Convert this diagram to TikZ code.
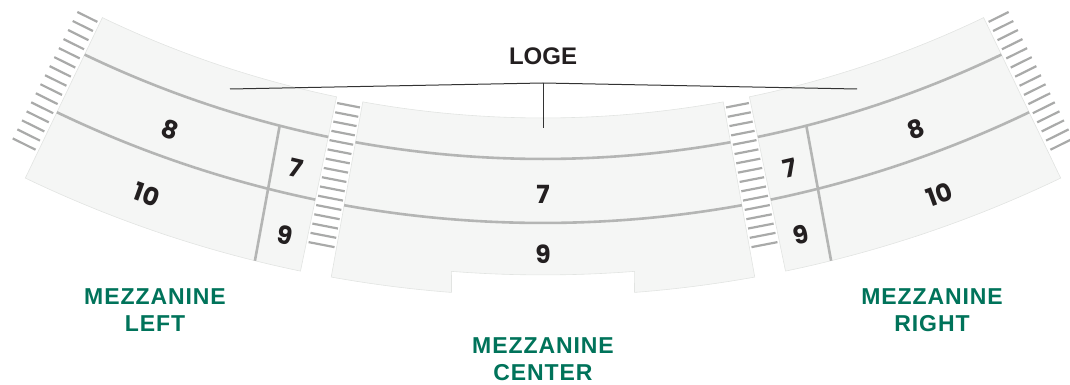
\documentclass[tikz,border=0pt]{standalone}
\usepackage{fontspec}
\newfontfamily\numfont{Poppins}
\newfontfamily\labfont{Liberation Sans}[LetterSpace=4]
\newfontfamily\logefont{Liberation Sans}
\definecolor{secfill}{HTML}{F5F6F5}
\definecolor{secedge}{HTML}{E2E4E2}
\definecolor{rowgrey}{HTML}{B4B5B4}
\definecolor{stairgrey}{HTML}{A9AAA9}
\definecolor{ink}{HTML}{231F20}
\definecolor{zonegreen}{HTML}{00735A}
\definecolor{calloutgrey}{HTML}{333333}
\begin{document}
\begin{tikzpicture}[x=1pt,y=-1pt,
  section/.style={fill=secfill, draw=secedge, line width=0.6pt},
  rowline/.style={draw=rowgrey, line width=2.6pt},
  stair/.style={draw=stairgrey, line width=2.2pt},
  seatnum/.style={font=\numfont\bfseries\fontsize{25}{25}\selectfont, text=ink, inner sep=0pt},
  zone/.style={font=\labfont\bfseries\fontsize{23}{27}\selectfont, text=zonegreen, align=center, inner sep=0pt},
  logelabel/.style={font=\logefont\bfseries\fontsize{24}{24}\selectfont, text=ink, inner sep=0pt},
  callout/.style={draw=calloutgrey, line width=1pt}]
\useasboundingbox (0,0) rectangle (1070,385);
\begin{scope}[shift={(543,-900)}]
  % sections
  \path[section] (115.65:1018) arc[start angle=115.65, end angle=101.7, radius=1018]
     -- (101.7:1196) arc[start angle=101.7, end angle=115.65, radius=1196] -- cycle;
  \path[section] (78.3:1018) arc[start angle=78.3, end angle=64.35, radius=1018]
     -- (64.35:1196) arc[start angle=64.35, end angle=78.3, radius=1196] -- cycle;
  \path[section] (100.2:1018) arc[start angle=100.2, end angle=79.8, radius=1018]
     -- (79.8:1196) arc[start angle=79.8, end angle=85.61, radius=1196]
     -- (85.53:1175) arc[start angle=85.53, end angle=94.47, radius=1175]
     -- (94.39:1196) arc[start angle=94.39, end angle=100.2, radius=1196] -- cycle;
  % row lines
  \foreach \r in {1059,1123}{
    \draw[rowline] (115.65:\r) arc[start angle=115.65, end angle=101.7, radius=\r];
    \draw[rowline] (100.2:\r) arc[start angle=100.2, end angle=79.8, radius=\r];
    \draw[rowline] (78.3:\r) arc[start angle=78.3, end angle=64.35, radius=\r];
  }
  % dividers
  \coordinate (dlt) at (104.4:1059);
  \coordinate (dlb) at (103.94:1196);
  \coordinate (drt) at (75.6:1059);
  \coordinate (drb) at (76.06:1196);
  \draw[rowline] (dlt) -- (dlb);
  \draw[rowline] (drt) -- (drb);
  % stairs between sections
  \foreach \k in {0,...,15}{
    \pgfmathsetmacro\r{1024+\k*142/15}
    \draw[stair] (101.6:\r) -- (100.3:\r);
    \draw[stair] (79.7:\r) -- (78.4:\r);
  }
  % outer stairs
  \foreach \k in {0,...,14}{
    \pgfmathsetmacro\r{1024+\k*142/14}
    \draw[stair] (117.05:\r) -- (115.8:\r);
    \draw[stair] (62.95:\r) -- (64.2:\r);
  }
  % seat numbers
  \node[seatnum, rotate=-19.9] (l8) at (109.9:1095) {8};
  \node[seatnum, rotate=-19.9] (l10) at (109.9:1164) {10};
  \node[seatnum, rotate=-13] (l7) at (103:1096) {7};
  \node[seatnum, rotate=-12.8] (l9) at (102.8:1164) {9};
  \node[seatnum] (c7) at (90:1094) {7};
  \node[seatnum] (c9) at (90:1154) {9};
  \node[seatnum, rotate=19.9] (r8) at (70.1:1095) {8};
  \node[seatnum, rotate=19.9] (r10) at (70.1:1164) {10};
  \node[seatnum, rotate=13] (r7) at (77:1096) {7};
  \node[seatnum, rotate=12.8] (r9) at (77.2:1164) {9};
\end{scope}
% LOGE callout
\node[logelabel] (loge) at (543,56) {LOGE};
\coordinate (logeL) at (230,89);
\coordinate (logeA) at (543,83);
\coordinate (logeR) at (857,89);
\coordinate (logeS) at (543,128);
\draw[callout] (logeL) -- (logeA) -- (logeR);
\draw[callout] (logeA) -- (logeS);
% zone labels
\node[zone] (ml) at (155,310) {MEZZANINE\\LEFT};
\node[zone] (mc) at (543,359) {MEZZANINE\\CENTER};
\node[zone] (mr) at (932,310) {MEZZANINE\\RIGHT};
\end{tikzpicture}
\end{document}
